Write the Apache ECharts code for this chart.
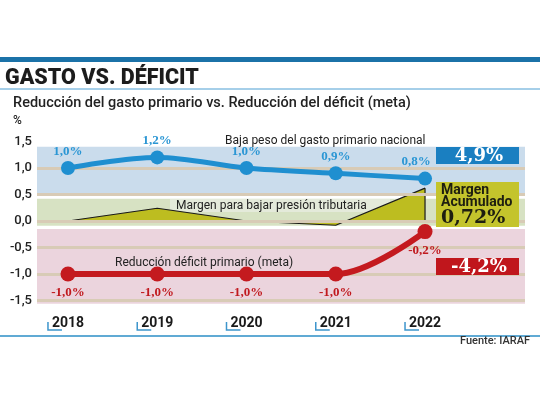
<!DOCTYPE html>
<html>
<head>
<meta charset="utf-8">
<script src="https://cdn.jsdelivr.net/npm/echarts@6/dist/echarts.min.js"></script>
<style>html,body{margin:0;padding:0;background:#fff}#c{width:540px;height:405px}</style>
</head>
<body>
<div id="c"></div>
<script>
const years = [2018, 2019, 2020, 2021, 2022];
const gastoValues = [1.0, 1.2, 1.0, 0.9, 0.8];
const deficitValues = [-1.0, -1.0, -1.0, -1.0, -0.2];
const margenValues = [0.0, 0.24, 0.0, -0.08, 0.62];
const yTickLabels = [1.5, 1.0, 0.5, 0.0, -0.5, -1.0, -1.5];
const gridLineValues = [1.0, 0.5, 0.0, -0.5, -1.0, -1.5];
const bandBlue = [1.40, 0.51];
const bandGreen = [0.42, -0.09];
const bandPink = [-0.15, -1.56];
const totalGasto = '4,9%';
const totalDeficit = '-4,2%';
const totalMargen = '0,72%';
const titleText = 'GASTO VS. DÉFICIT';
const subtitleText = 'Reducción del gasto primario vs. Reducción del déficit (meta)';
const sourceText = 'Fuente: IARAF';

const fmt = v => v.toFixed(1).replace('.', ',');
const pct = v => fmt(v) + '%';

const chart = echarts.init(document.getElementById('c'), null, {renderer: 'canvas'});

const txt = (text, x, y, font, fill, align, z) => ({
  type: 'text', z: z || 10, x: x, y: y,
  style: {text: text, font: font, fill: fill, textAlign: align || 'left', align: align || 'left',
          textVerticalAlign: 'middle', verticalAlign: 'middle'}
});

const option = {
  animation: false,
  backgroundColor: '#ffffff',
  grid: {left: 37, right: 15, top: 115, bottom: 78, containLabel: false},
  xAxis: {
    type: 'value', min: 2017.653, max: 2023.12,
    axisLine: {show: false}, axisTick: {show: false}, splitLine: {show: false},
    axisLabel: {
      customValues: years, margin: -11,
      formatter: v => String(v),
      fontFamily: 'Roboto', fontWeight: 'bold', fontSize: 14, color: '#1a1a1a'
    }
  },
  yAxis: {
    type: 'value', min: -2, max: 2, interval: 0.5,
    axisLine: {show: false}, axisTick: {show: false}, splitLine: {show: false},
    axisLabel: {
      margin: 5, padding: [0, 0, 4, 0],
      formatter: v => (yTickLabels.some(t => Math.abs(t - v) < 1e-6) ? fmt(v) : ''),
      fontFamily: 'Roboto', fontWeight: 500, fontSize: 13, color: '#222'
    }
  },
  graphic: [
    {type: 'rect', z: 10, shape: {x: 0, y: 57, width: 540, height: 5}, style: {fill: '#1b72a8'}},
    txt(titleText, 5, 79, '900 21.5px Roboto', '#1c1c1c'),
    {type: 'line', z: 10, shape: {x1: 0, y1: 89, x2: 540, y2: 89}, style: {stroke: '#4d9fd3', lineWidth: 1}},
    txt(subtitleText, 13, 103, '500 14.5px Roboto', '#222'),
    txt('%', 13, 121, '500 12px Roboto', '#222'),
    txt('Baja peso del gasto primario nacional', 225, 141, '12px Roboto', '#222'),
    {type: 'rect', z: 3, shape: {x: 170, y: 199, width: 220, height: 13}, style: {fill: '#e4eada'}},
    txt('Margen para bajar presión tributaria', 176, 206, '12px Roboto', '#222'),
    txt('Reducción déficit primario (meta)', 115, 263, '12px Roboto', '#222'),
    {type: 'rect', z: 10, shape: {x: 436, y: 147, width: 83, height: 17}, style: {fill: '#1a7fc1'}},
    txt(totalGasto, 479, 156, 'bold 18px "DejaVu Serif"', '#ffffff', 'center', 11),
    {type: 'rect', z: 10, shape: {x: 436, y: 182, width: 83, height: 45}, style: {fill: '#c4c42c'}},
    txt('Margen', 441, 190, 'bold 14px Roboto', '#1e1e10', 'left', 11),
    txt('Acumulado', 441, 202, 'bold 14px Roboto', '#1e1e10', 'left', 11),
    txt(totalMargen, 441, 218, 'bold 19px "DejaVu Serif"', '#1e1e10', 'left', 11),
    {type: 'rect', z: 10, shape: {x: 436, y: 258, width: 83, height: 17}, style: {fill: '#c0161c'}},
    txt(totalDeficit, 479, 267, 'bold 18px "DejaVu Serif"', '#ffffff', 'center', 11),
    {type: 'line', z: 10, shape: {x1: 0, y1: 336, x2: 540, y2: 336}, style: {stroke: '#2b8ec6', lineWidth: 1.5}},
    txt(sourceText, 530, 341, '500 11px Roboto', '#333', 'right')
  ],
  series: [
    {
      name: 'bands', type: 'line', z: 1, data: [], silent: true,
      markArea: {
        silent: true,
        itemStyle: {opacity: 1},
        data: [
          [{yAxis: bandBlue[0], itemStyle: {color: '#cadcec'}}, {yAxis: bandBlue[1]}],
          [{yAxis: bandGreen[0], itemStyle: {color: '#d7e2c3'}}, {yAxis: bandGreen[1]}],
          [{yAxis: bandPink[0], itemStyle: {color: '#ebd4dd'}}, {yAxis: bandPink[1]}]
        ]
      }
    },
    {
      name: 'grid', type: 'line', z: 2, data: [], silent: true,
      markLine: {
        silent: true, symbol: 'none', label: {show: false},
        lineStyle: {color: '#d8cbb6', width: 3, type: 'solid'},
        data: gridLineValues.map(v => ({yAxis: v}))
      }
    },
    {
      name: 'margen', type: 'line', z: 4, symbol: 'none', smooth: false,
      data: years.map((y, i) => [y, margenValues[i]]),
      lineStyle: {color: '#1a1a1a', width: 1.2},
      areaStyle: {color: '#bdbd20', opacity: 1, origin: 0}
    },
    {
      name: 'margenBase', type: 'line', z: 4, symbol: 'none',
      data: [[years[0], 0], [years[years.length - 1], 0], [years[years.length - 1], margenValues[margenValues.length - 1]]],
      lineStyle: {color: '#1a1a1a', width: 1.2}
    },
    {
      name: 'gasto', type: 'line', z: 6, smooth: 0.35,
      data: years.map((y, i) => [y, gastoValues[i]]),
      symbol: 'circle', symbolSize: 14,
      lineStyle: {color: '#1f8fd0', width: 5},
      itemStyle: {color: '#1f8fd0'},
      label: {
        show: true, position: 'top', distance: 3,
        formatter: p => pct(p.value[1]),
        fontFamily: '"Liberation Serif"', fontWeight: 'bold', fontSize: 13, color: '#2a96d4'
      },
      labelLayout: p => (p.dataIndex === years.length - 1 ? {dx: -9} : {})
    },
    {
      name: 'deficit', type: 'line', z: 6, smooth: 0.35,
      data: years.map((y, i) => [y, deficitValues[i]]),
      symbol: 'circle', symbolSize: 15,
      lineStyle: {color: '#c41a1f', width: 6},
      itemStyle: {color: '#c41a1f'},
      label: {
        show: true, position: 'bottom', distance: 5,
        formatter: p => pct(p.value[1]),
        fontFamily: '"Liberation Serif"', fontWeight: 'bold', fontSize: 13, color: '#c0191e'
      }
    },
    {
      name: 'brackets', type: 'custom', z: 5, clip: false, silent: true,
      data: years.map(y => [y, -2]),
      renderItem: (params, api) => {
        const p = api.coord([api.value(0), api.value(1)]);
        return {
          type: 'polyline',
          shape: {points: [[p[0] - 20, p[1] - 5], [p[0] - 20, p[1] + 3], [p[0] - 6, p[1] + 3]]},
          style: {stroke: '#3d95cc', lineWidth: 1.5, fill: null}
        };
      }
    }
  ]
};
chart.setOption(option);
</script>
</body>
</html>
